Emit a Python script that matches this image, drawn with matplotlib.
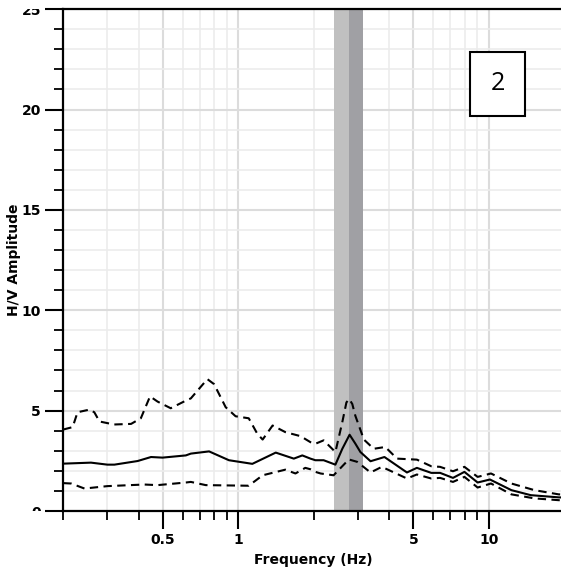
import matplotlib
matplotlib.use("Agg")
import matplotlib.pyplot as plt
import matplotlib.patches as mpatches
from matplotlib.transforms import Bbox, TransformedBbox
from matplotlib.ticker import FixedLocator, NullFormatter, MultipleLocator, FixedFormatter

# H/V curve
freq_mean = [0.20, 0.258, 0.30, 0.32, 0.396, 0.448, 0.498, 0.617, 0.646, 0.764, 0.917,
             1.137, 1.41, 1.665, 1.80, 1.94, 2.03, 2.19, 2.44, 2.60, 2.78, 2.93, 3.07,
             3.37, 3.83, 4.71, 5.16, 5.89, 6.39, 7.19, 7.99, 9.02, 10.1, 12.3, 14.7,
             19.0, 20.0]
hv_mean = [2.36, 2.41, 2.31, 2.31, 2.49, 2.69, 2.66, 2.77, 2.86, 2.97, 2.53,
           2.35, 2.91, 2.61, 2.77, 2.61, 2.53, 2.53, 2.31, 3.10, 3.80, 3.36, 2.94,
           2.48, 2.69, 1.92, 2.15, 1.90, 1.90, 1.65, 1.95, 1.42, 1.57, 1.04, 0.79,
           0.68, 0.67]

freq_upper = [0.20, 0.218, 0.228, 0.254, 0.266, 0.279, 0.319, 0.373, 0.408, 0.444, 0.476,
              0.537, 0.617, 0.646, 0.686, 0.752, 0.80, 0.89, 0.975, 1.10, 1.19, 1.25,
              1.37, 1.54, 1.77, 1.94, 2.03, 2.19, 2.44, 2.60, 2.70, 2.77, 2.85, 2.93,
              3.17, 3.47, 3.86, 4.30, 5.16, 5.89, 6.39, 7.19, 7.99, 9.02, 10.2, 12.3,
              15.2, 19.0, 20.0]
hv_upper = [4.06, 4.18, 4.92, 5.05, 4.92, 4.46, 4.31, 4.34, 4.62, 5.71, 5.45,
            5.12, 5.50, 5.61, 5.99, 6.57, 6.32, 5.17, 4.72, 4.62, 3.85, 3.56,
            4.26, 3.93, 3.73, 3.43, 3.35, 3.52, 2.94, 4.43, 5.41, 5.58, 5.33, 4.75,
            3.56, 3.10, 3.19, 2.61, 2.56, 2.23, 2.20, 1.98, 2.20, 1.70, 1.87, 1.37,
            1.04, 0.83, 0.82]

freq_lower = [0.20, 0.215, 0.243, 0.30, 0.421, 0.476, 0.617, 0.646, 0.741, 1.10, 1.25,
              1.54, 1.69, 1.85, 1.94, 2.03, 2.13, 2.40, 2.76, 2.98, 3.37, 3.74, 4.71,
              5.16, 5.89, 6.39, 7.19, 7.99, 9.02, 10.2, 12.3, 15.2, 19.0, 20.0]
hv_lower = [1.39, 1.37, 1.12, 1.24, 1.32, 1.29, 1.42, 1.45, 1.29, 1.26, 1.78,
            2.06, 1.87, 2.15, 2.08, 1.95, 1.87, 1.78, 2.57, 2.45, 1.92, 2.20, 1.62,
            1.82, 1.62, 1.65, 1.45, 1.70, 1.17, 1.37, 0.83, 0.63, 0.54, 0.53]

# peak frequency and its spread
f0_low, f0, f0_high = 2.40, 2.76, 3.15

major_x = [0.5, 1, 5, 10]
major_x_labels = ["0.5", "1", "5", "10"]
minor_x = [0.2, 0.3, 0.4, 0.6, 0.7, 0.8, 0.9, 2, 3, 4, 6, 7, 8, 9, 20]

fig = plt.figure(figsize=(5.61, 5.69), dpi=100)
ax = fig.add_axes([0.1128, 0.1019, 0.893, 0.882])

ax.set_xscale("log")
ax.set_xlim(0.2, 20)
ax.set_ylim(0, 25)

ax.axvspan(f0_low, f0, color="#c0c0c0", lw=0, zorder=1)
ax.axvspan(f0, f0_high, color="#a0a0a4", lw=0, zorder=1)

dash = (0, (4, 2.6))
ax.plot(freq_upper, hv_upper, color="black", lw=1.5, ls=dash, zorder=3)
ax.plot(freq_mean, hv_mean, color="black", lw=1.5, zorder=3)
ax.plot(freq_lower, hv_lower, color="black", lw=1.5, ls=dash, zorder=3)

ax.xaxis.set_major_locator(FixedLocator(major_x))
ax.xaxis.set_major_formatter(FixedFormatter(major_x_labels))
ax.xaxis.set_minor_locator(FixedLocator(minor_x))
ax.xaxis.set_minor_formatter(NullFormatter())
ax.yaxis.set_major_locator(MultipleLocator(5))
ax.yaxis.set_minor_locator(MultipleLocator(1))

ax.grid(which="major", color="#dcdcdc", lw=1.5, zorder=0)
ax.grid(which="minor", color="#ececec", lw=1.2, zorder=0)
ax.set_axisbelow(True)

ax.tick_params(which="major", direction="out", length=13, width=1.5, pad=3,
               labelsize=10)
ax.tick_params(which="minor", direction="out", length=6.5, width=1.3)
for lab in ax.get_xticklabels() + ax.get_yticklabels():
    lab.set_fontweight("bold")

# y tick labels get cut at the plot's top and bottom edges, as in the original
fig.canvas.draw()
pos = ax.get_position()
clip = TransformedBbox(Bbox([[0, pos.y0], [pos.x0, pos.y1]]), fig.transFigure)
for lab in ax.get_yticklabels():
    lab.set_clip_on(True)
    lab.set_clip_box(clip)

for s in ["left", "top", "bottom", "right"]:
    ax.spines[s].set_linewidth(1.6)
    ax.spines[s].set_color("black")

ax.set_xlabel("Frequency (Hz)", fontsize=10, fontweight="bold", labelpad=4)
ax.set_ylabel("H/V Amplitude", fontsize=10, fontweight="bold", labelpad=0.5)

# label box
box = mpatches.Rectangle((0.838, 0.7967), 0.098, 0.1125, transform=fig.transFigure,
                         facecolor="white", edgecolor="black", lw=1.5, zorder=5)
fig.patches.append(box)
fig.text(0.838 + 0.049, 0.7967 + 0.056, "2", fontsize=18, family="Open Sans",
         ha="center", va="center", zorder=6)

fig.savefig("out.png", dpi=100)
